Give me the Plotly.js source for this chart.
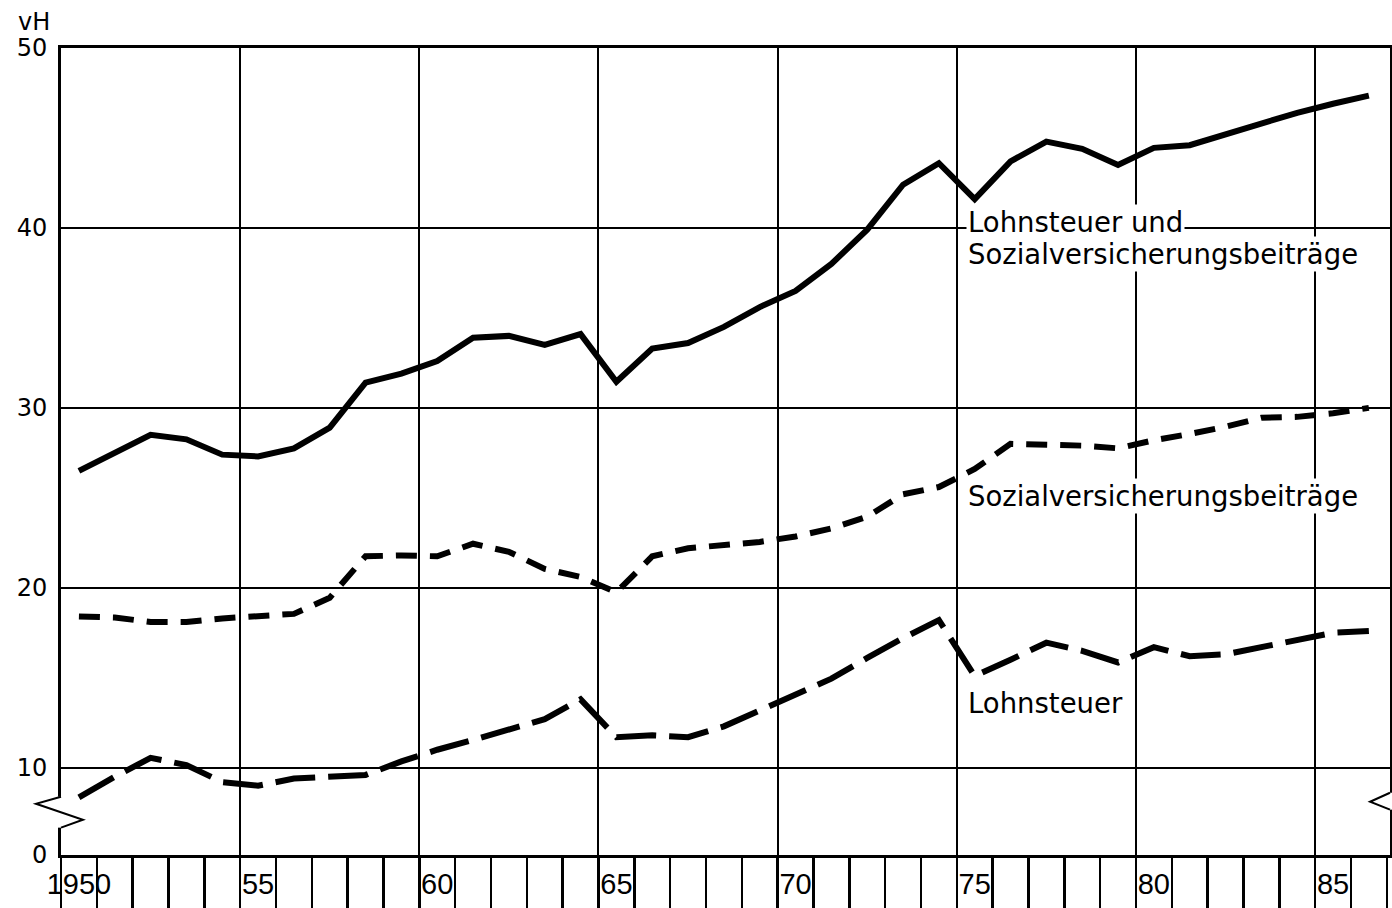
<!DOCTYPE html>
<html>
<head>
<meta charset="utf-8">
<script src="https://cdn.plot.ly/plotly-3.0.1.min.js"></script>
<style>
  html, body { margin: 0; padding: 0; background: #fff; }
  #chart { width: 1392px; height: 908px; }
</style>
</head>
<body>
<div id="chart"></div>
<script>
// ---- data (vH) ----
const years = [1950,1951,1952,1953,1954,1955,1956,1957,1958,1959,
               1960,1961,1962,1963,1964,1965,1966,1967,1968,1969,
               1970,1971,1972,1973,1974,1975,1976,1977,1978,1979,
               1980,1981,1982,1983,1984,1985,1986];

const lohnUndSV = [26.5,27.5,28.5,28.25,27.4,27.3,27.75,28.9,31.4,31.9,
                   32.6,33.9,34.0,33.5,34.1,31.45,33.3,33.6,34.5,35.6,
                   36.5,38.0,39.9,42.4,43.6,41.6,43.7,44.8,44.4,43.5,
                   44.45,44.6,45.2,45.85,46.4,46.9,47.35];

const sozialV = [18.4,18.35,18.1,18.1,18.3,18.45,18.55,19.45,21.75,21.8,
                 21.75,22.45,22.0,21.05,20.6,19.75,21.75,22.2,22.35,22.55,
                 22.85,23.3,23.95,25.2,25.6,26.6,28.0,27.95,27.9,27.75,
                 28.2,28.55,28.95,29.45,29.5,29.7,30.0];

const lohnsteuer = [8.35,9.5,10.55,10.15,9.2,9.0,9.4,9.5,9.6,10.35,
                    11.0,11.55,12.1,12.7,13.8,11.7,11.8,11.7,12.3,13.2,
                    14.1,14.95,16.1,17.2,18.2,15.1,16.0,16.95,16.5,15.85,
                    16.7,16.2,16.3,16.7,17.1,17.5,17.6];

const labelYears = [1950,1955,1960,1965,1970,1975,1980,1985];
const labelText  = ["1950","55","60","65","70","75","80","85"];
const yTicks     = [10,20,30,40,50];
const yTickText  = ["10","20","30","40","50"];

// ---- axis layout constants ----
const Y_BOTTOM = 5.15;          // where the broken axis shows "0"
const X_RANGE = [1950, 1987.09];
const FONT = "DejaVu Sans, sans-serif";
const NARROW = "Liberation Sans Narrow, Liberation Sans, sans-serif";

const xMid = years.map(y => y + 0.5);  // values plotted at mid-year

const traces = [
  { x: xMid, y: lohnUndSV, type: "scatter", mode: "lines", xaxis: "x",
    line: { color: "#000", width: 6 }, hoverinfo: "skip" },
  { x: xMid, y: sozialV, type: "scatter", mode: "lines", xaxis: "x",
    line: { color: "#000", width: 6, dash: "21px,13px" }, hoverinfo: "skip" },
  { x: xMid, y: lohnsteuer, type: "scatter", mode: "lines", xaxis: "x2",
    line: { color: "#000", width: 6, dash: "40px,13px" }, hoverinfo: "skip" }
];

const labelFont = { family: FONT, size: 27.5, color: "#000" };

const layout = {
  width: 1392, height: 908,
  margin: { l: 61, r: 2, t: 48, b: 53 },
  paper_bgcolor: "#fff", plot_bgcolor: "#fff",
  showlegend: false,
  font: { family: FONT, color: "#000", size: 24 },
  xaxis: {
    range: X_RANGE, fixedrange: true,
    tickmode: "array", tickvals: labelYears,
    showticklabels: false,
    ticks: "outside", ticklen: 55, tickwidth: 2.5, tickcolor: "#000",
    showgrid: true, gridcolor: "#000", gridwidth: 2,
    showline: true, linecolor: "#000", linewidth: 3, mirror: true,
    zeroline: false,
    minor: { tick0: 1950, dtick: 1, ticks: "outside", ticklen: 55,
             tickwidth: 2.5, tickcolor: "#000", showgrid: false }
  },
  xaxis2: {
    overlaying: "x", anchor: "y", side: "bottom",
    range: X_RANGE, fixedrange: true,
    tickmode: "array",
    tickvals: labelYears.map(y => y + 0.5), ticktext: labelText,
    ticks: "outside", ticklen: 3, tickcolor: "rgba(0,0,0,0)",
    showgrid: false, showline: false, zeroline: false,
    tickfont: { family: NARROW, size: 29, color: "#000" }
  },
  yaxis: {
    range: [Y_BOTTOM, 50], fixedrange: true,
    tickmode: "array",
    tickvals: [Y_BOTTOM].concat(yTicks),
    ticktext: ["0"].concat(yTickText),
    ticks: "outside", ticklen: 6, tickcolor: "rgba(0,0,0,0)",
    showgrid: true, gridcolor: "#000", gridwidth: 2,
    showline: true, linecolor: "#000", linewidth: 3, mirror: true,
    zeroline: false,
    tickfont: { family: FONT, size: 24, color: "#000" }
  },
  annotations: [
    { xref: "paper", yref: "paper", x: -0.0335, y: 1.032,
      xanchor: "left", yanchor: "middle", showarrow: false,
      text: "vH", font: { family: FONT, size: 24, color: "#000" } },
    { xref: "x", yref: "y", x: 1975.25, y: 40.35,
      xanchor: "left", yanchor: "middle", showarrow: false, bgcolor: "#fff",
      text: "Lohnsteuer und", font: labelFont },
    { xref: "x", yref: "y", x: 1975.25, y: 38.55,
      xanchor: "left", yanchor: "middle", showarrow: false, bgcolor: "#fff",
      text: "Sozialversicherungsbeiträge", font: labelFont },
    { xref: "x", yref: "y", x: 1975.25, y: 25.1,
      xanchor: "left", yanchor: "middle", showarrow: false, bgcolor: "#fff",
      text: "Sozialversicherungsbeiträge", font: labelFont },
    { xref: "x", yref: "y", x: 1975.25, y: 13.6,
      xanchor: "left", yanchor: "middle", showarrow: false, bgcolor: "#fff",
      text: "Lohnsteuer", font: labelFont }
  ],
  shapes: [
    // gap in the left axis line (axis break)
    { type: "rect", xref: "paper", yref: "y", layer: "above",
      x0: -0.004, x1: 0.004, y0: 6.67, y1: 8.39,
      fillcolor: "#fff", line: { width: 0 } },
    { type: "path", xref: "paper", yref: "y", layer: "above",
      path: "M 0,8.39 L -0.0188,8.0 L 0.0165,7.11 L 0,6.67",
      line: { color: "#000", width: 2 } },
    // gap in the right border (axis break)
    { type: "rect", xref: "paper", yref: "y", layer: "above",
      x0: 0.996, x1: 1.004, y0: 7.67, y1: 8.61,
      fillcolor: "#fff", line: { width: 0 } },
    { type: "path", xref: "paper", yref: "y", layer: "above",
      path: "M 1,8.61 L 0.985,8.11 L 1,7.67",
      line: { color: "#000", width: 2 } }
  ]
};

Plotly.newPlot("chart", traces, layout, { staticPlot: true, displayModeBar: false });
</script>
</body>
</html>
